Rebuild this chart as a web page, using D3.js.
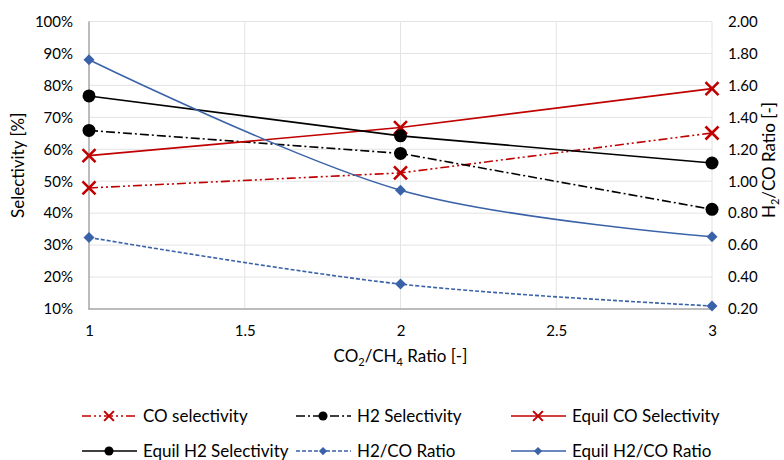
<!DOCTYPE html>
<html>
<head>
<meta charset="utf-8">
<script src="https://cdn.jsdelivr.net/npm/d3@7"></script>
<style>
  html, body { margin: 0; padding: 0; background: #fff; }
  svg text { font-family: Lato, "Open Sans", sans-serif; fill: #000; }
</style>
</head>
<body>
<svg id="chart" width="784" height="460"></svg>
<script>
// ---- data ----
const ratios = [1, 2, 3];
const coSelectivity = [47.9, 52.6, 65.1];
const h2Selectivity = [65.9, 58.7, 41.2];
const equilCoSelectivity = [58.0, 66.8, 79.0];
const equilH2Selectivity = [76.7, 64.2, 55.7];
const h2CoRatio = [0.648, 0.356, 0.219];
const equilH2CoRatio = [1.76, 0.944, 0.652];
const xTicks = [1, 1.5, 2, 2.5, 3];
const leftTicks = [10, 20, 30, 40, 50, 60, 70, 80, 90, 100];
const rightTicks = [0.2, 0.4, 0.6, 0.8, 1.0, 1.2, 1.4, 1.6, 1.8, 2.0];
const seriesNames = ["CO selectivity", "H2 Selectivity", "Equil CO Selectivity",
                     "Equil H2 Selectivity", "H2/CO Ratio", "Equil H2/CO Ratio"];

const RED = "#c00000", BLACK = "#000000", BLUE = "#3a62a8";

const series = [
  { name: seriesNames[0], values: coSelectivity, axis: "L", color: RED, dash: "9,3,2,3,2,3", marker: "x", smooth: false },
  { name: seriesNames[1], values: h2Selectivity, axis: "L", color: BLACK, dash: "9,3,2,3", marker: "circle", smooth: false },
  { name: seriesNames[2], values: equilCoSelectivity, axis: "L", color: RED, dash: null, marker: "x", smooth: false },
  { name: seriesNames[3], values: equilH2Selectivity, axis: "L", color: BLACK, dash: null, marker: "circle", smooth: false },
  { name: seriesNames[4], values: h2CoRatio, axis: "R", color: BLUE, dash: "4,2", marker: "diamond", smooth: true },
  { name: seriesNames[5], values: equilH2CoRatio, axis: "R", color: BLUE, dash: null, marker: "diamond", smooth: true }
];

const svg = d3.select("#chart");
const plot = { left: 89, right: 712, top: 21.5, bottom: 309 };

const x = d3.scaleLinear().domain([1, 3]).range([plot.left, plot.right]);
const yL = d3.scaleLinear().domain([10, 100]).range([plot.bottom, plot.top]);
const yR = d3.scaleLinear().domain([0.2, 2.0]).range([plot.bottom, plot.top]);

// gridlines
const grid = svg.append("g");
grid.selectAll("line.h").data(leftTicks.slice(1)).enter().append("line")
  .attr("x1", plot.left).attr("x2", plot.right)
  .attr("y1", d => yL(d)).attr("y2", d => yL(d))
  .attr("stroke", "#e3e3e3").attr("stroke-width", 1);
grid.selectAll("line.v").data(xTicks.slice(1)).enter().append("line")
  .attr("x1", d => x(d)).attr("x2", d => x(d))
  .attr("y1", plot.top).attr("y2", plot.bottom)
  .attr("stroke", "#e3e3e3").attr("stroke-width", 1);

// axes via d3 axis generators
const fs = "15px";
const axL = svg.append("g").attr("transform", `translate(${plot.left},0)`)
  .call(d3.axisLeft(yL).tickValues(leftTicks).tickFormat(d => d + "%").tickSize(0).tickPadding(16));
const axR = svg.append("g").attr("transform", `translate(${plot.right},0)`)
  .call(d3.axisRight(yR).tickValues(rightTicks).tickFormat(d3.format(".2f")).tickSize(0).tickPadding(16));
const axB = svg.append("g").attr("transform", `translate(0,${plot.bottom})`)
  .call(d3.axisBottom(x).tickValues(xTicks).tickFormat(d => String(d)).tickSize(0).tickPadding(16));
[axL, axR, axB].forEach(a => {
  a.selectAll("text").style("font-size", fs).attr("fill", "#000");
  a.select(".domain").attr("stroke", "none");
});
// visible axis lines (left and bottom)
svg.append("line").attr("x1", plot.left).attr("x2", plot.left)
  .attr("y1", plot.top).attr("y2", plot.bottom + 0.5)
  .attr("stroke", "#a6a6a6").attr("stroke-width", 1.5);
svg.append("line").attr("x1", plot.left - 0.5).attr("x2", plot.right)
  .attr("y1", plot.bottom).attr("y2", plot.bottom)
  .attr("stroke", "#a6a6a6").attr("stroke-width", 1.5);

// axis titles
svg.append("text").attr("transform", `translate(24,${(plot.top + plot.bottom) / 2}) rotate(-90)`)
  .attr("text-anchor", "middle").style("font-size", "17px").text("Selectivity [%]");

const rt = svg.append("text").attr("transform", `translate(775,160) rotate(-90)`)
  .attr("text-anchor", "middle").style("font-size", "17px");
rt.append("tspan").text("H");
rt.append("tspan").text("2").style("font-size", "11px").attr("dy", 4);
rt.append("tspan").text("/CO Ratio [-]").attr("dy", -4);

const bt = svg.append("text").attr("x", (plot.left + plot.right) / 2).attr("y", 362)
  .attr("text-anchor", "middle").style("font-size", "17px");
bt.append("tspan").text("CO");
bt.append("tspan").text("2").style("font-size", "11px").attr("dy", 4);
bt.append("tspan").text("/CH").attr("dy", -4);
bt.append("tspan").text("4").style("font-size", "11px").attr("dy", 4);
bt.append("tspan").text(" Ratio [-]").attr("dy", -4);

// marker drawing
function drawMarker(g, type, cx, cy, color, scale) {
  if (type === "x") {
    const s = 6.5 * scale;
    g.append("path").attr("d", `M${cx - s},${cy - s}L${cx + s},${cy + s}M${cx - s},${cy + s}L${cx + s},${cy - s}`)
      .attr("stroke", color).attr("stroke-width", 2.6 * Math.max(scale, 0.8)).attr("fill", "none");
  } else if (type === "circle") {
    g.append("circle").attr("cx", cx).attr("cy", cy).attr("r", 6.5 * scale).attr("fill", color);
  } else {
    const s = 5.5 * scale;
    g.append("path").attr("d", `M${cx},${cy - s}L${cx + s},${cy}L${cx},${cy + s}L${cx - s},${cy}Z`)
      .attr("fill", color);
  }
}

// series
const marks = svg.append("g");
series.forEach(s => {
  const yS = s.axis === "L" ? yL : yR;
  const line = d3.line().x((d, i) => x(ratios[i])).y(d => yS(d))
    .curve(s.smooth ? d3.curveCatmullRom.alpha(0) : d3.curveLinear);
  const g = marks.append("g");
  g.append("path").attr("d", line(s.values)).attr("fill", "none")
    .attr("stroke", s.color).attr("stroke-width", 1.6)
    .attr("stroke-dasharray", s.dash);
  s.values.forEach((v, i) => drawMarker(g, s.marker, x(ratios[i]), yS(v), s.color, 1));
});

// legend
const legCols = [82, 296, 511];
const legRows = [416, 451];
const leg = svg.append("g");
series.forEach((s, i) => {
  const lx = legCols[i % 3], ly = legRows[Math.floor(i / 3)];
  const g = leg.append("g");
  g.append("line").attr("x1", lx).attr("x2", lx + 55).attr("y1", ly).attr("y2", ly)
    .attr("stroke", s.color).attr("stroke-width", 1.6).attr("stroke-dasharray", s.dash);
  drawMarker(g, s.marker, lx + 27, ly, s.color, s.marker === "circle" ? 0.7 : 0.75);
  g.append("text").attr("x", lx + 61).attr("y", ly).attr("dy", "0.35em")
    .style("font-size", "17px").text(s.name);
});
</script>
</body>
</html>
